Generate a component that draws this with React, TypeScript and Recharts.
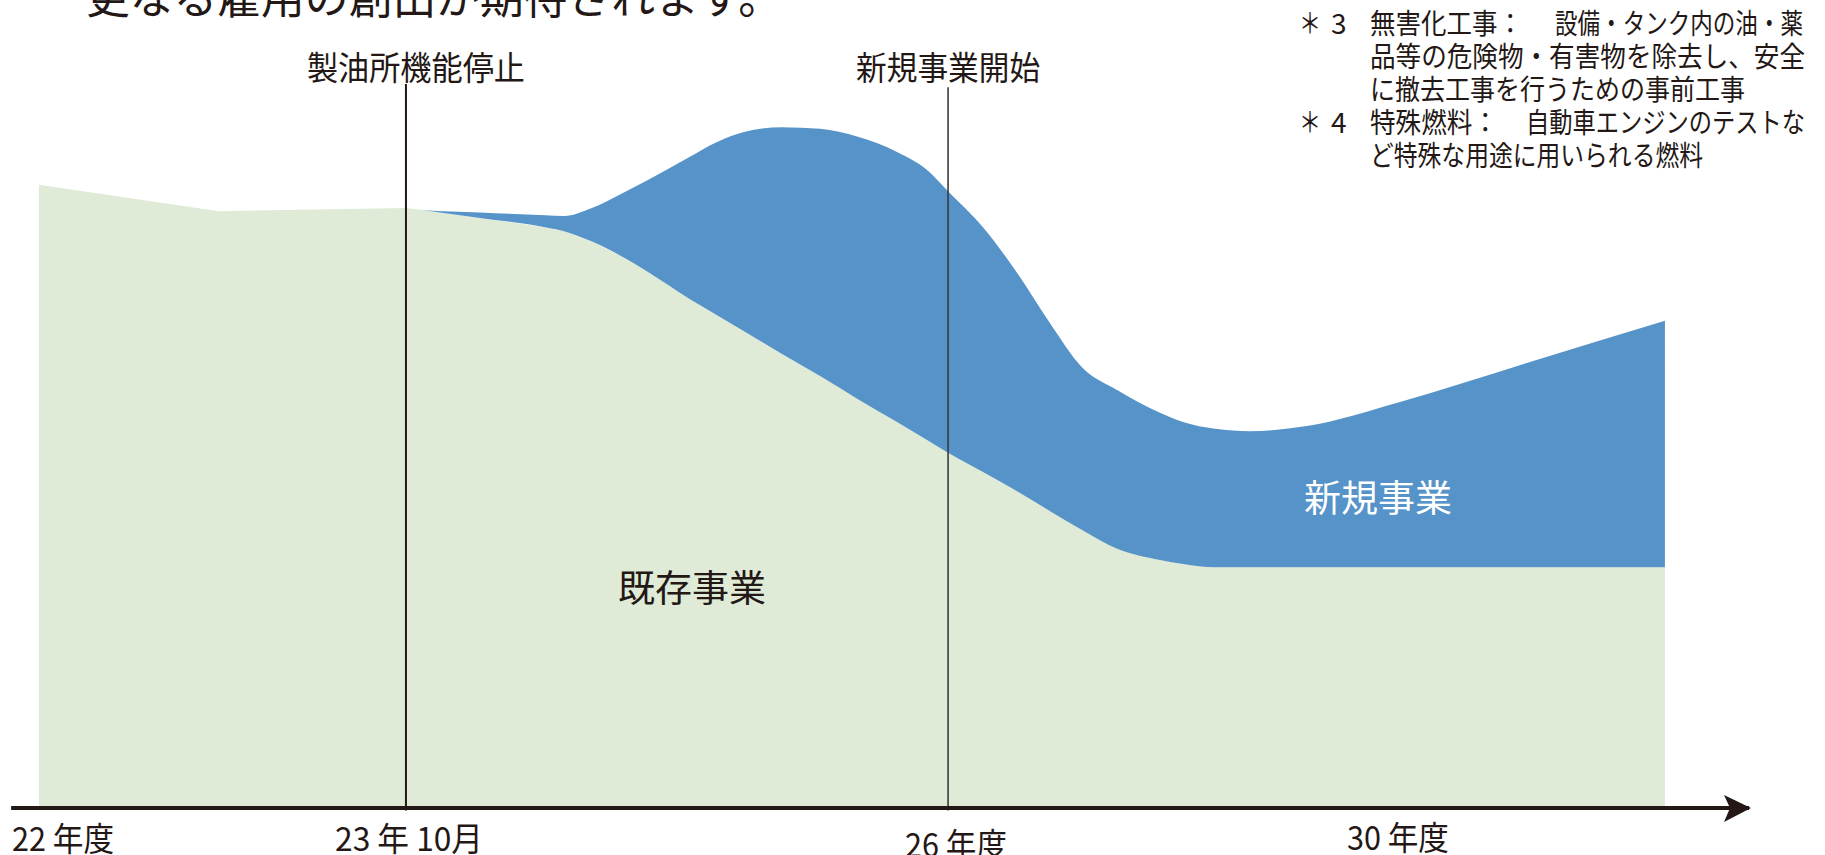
import React from "react";
import { ComposedChart, Area, XAxis, YAxis, ReferenceLine } from "recharts";

// x: schematic time index (0–100), y: schematic employment index (0–100)
const timeIndex = [1.55, 11.92, 22.68, 23.6, 26.94, 30.69, 31.78, 33.39, 35.06, 36.61, 39.03, 40.59, 42.14, 44.33, 46.52, 48.7, 50.95, 52.68, 53.89, 55.9, 57.86, 59.76, 61.6, 63.62, 66.09, 67.42, 69.26, 71.27, 74.55, 79.91, 87.39, 95.16];
const existingBiz = [77.9, 74.6, 75.0, 74.75, 73.75, 72.6, 72.1, 70.8, 69.0, 67.0, 63.6, 61.6, 59.6, 56.75, 54.0, 51.1, 48.25, 46.0, 44.4, 42.0, 39.6, 37.1, 34.75, 32.4, 31.0, 30.5, 30.1, 30.1, 30.1, 30.1, 30.1, 30.1];
const newBiz = [0, 0, 0, 0, 0.69, 1.5, 1.9, 4.2, 7.75, 11.5, 17.8, 21.65, 24.9, 28.35, 30.9, 32.8, 33.75, 33.75, 32.7, 30.6, 27.3, 23.5, 20.35, 19.85, 18.4, 17.75, 17.3, 17.0, 17.65, 20.65, 25.65, 30.8];

const tickValues = [2.94, 22.86, 54.35, 79.79];
const tickLabels = ["22 年度", "23 年 10月", "26 年度", "30 年度"];
const tickWidths = [102, 148, 102, 102];
const tickBaselines = [851, 851, 857, 850];

const events = [
  { x: 22.68, top: 90.5, label: "製油所機能停止", width: 218, dx: 10 },
  { x: 53.89, top: 90.1, label: "新規事業開始", width: 184, dx: 0 },
];

const data = timeIndex.map((t, i) => ({ t, existing: existingBiz[i], added: newBiz[i] }));

const INK = "#231815";
const GREEN = "#dfebd6";
const BLUE = "#5693c8";
const JP = "'Noto Sans CJK JP', 'Noto Sans', sans-serif";

const Tick = (props: any) => {
  const i = tickValues.indexOf(props.payload.value);
  if (i < 0) return null;
  return (
    <text
      x={props.x}
      y={tickBaselines[i]}
      textAnchor="middle"
      fontFamily={JP}
      fontSize={33}
      fill={INK}
      textLength={tickWidths[i]}
      lengthAdjust="spacingAndGlyphs"
    >
      {tickLabels[i]}
    </text>
  );
};

const EventLabel = (props: any) => {
  const vb = props.viewBox || {};
  const ev = props.ev;
  return (
    <text
      x={vb.x + ev.dx}
      y={80}
      textAnchor="middle"
      fontFamily={JP}
      fontSize={33}
      fill={INK}
      textLength={ev.width}
      lengthAdjust="spacingAndGlyphs"
    >
      {ev.label}
    </text>
  );
};

const NOTE_FS = 28;

export default function App() {
  return (
    <div style={{ position: "absolute", left: 0, top: 0, width: 1825, height: 855, background: "#fff", overflow: "hidden" }}>
      <ComposedChart
        width={1825}
        height={855}
        data={data}
        margin={{ top: 8, right: 76, bottom: 0, left: 12 }}
      >
        <XAxis
          dataKey="t"
          type="number"
          domain={[0, 100]}
          ticks={tickValues}
          tick={<Tick />}
          tickLine={false}
          height={47}
          axisLine={false}
          interval={0}
        />
        <YAxis hide domain={[0, 100]} type="number" allowDataOverflow />
        <Area
          dataKey="existing"
          stackId="a"
          type="linear"
          fill={GREEN}
          fillOpacity={1}
          stroke="none"
          isAnimationActive={false}
          dot={false}
          activeDot={false}
        />
        <Area
          dataKey="added"
          stackId="a"
          type="monotone"
          fill={BLUE}
          fillOpacity={1}
          stroke="none"
          isAnimationActive={false}
          dot={false}
          activeDot={false}
        />
        {events.map((ev, i) => (
          <ReferenceLine
            key={i}
            segment={[{ x: ev.x, y: ev.top }, { x: ev.x, y: -0.3 }]}
            stroke={i === 0 ? INK : "#3b3b3b"}
            strokeWidth={i === 0 ? 2 : 1.6}
            ifOverflow="visible"
            label={<EventLabel ev={ev} />}
          />
        ))}
        <ReferenceLine
          segment={[{ x: -0.05, y: 0 }, { x: 100, y: 0 }]}
          stroke={INK}
          strokeWidth={4}
          ifOverflow="visible"
        />
      </ComposedChart>
      <svg width={1825} height={855} style={{ position: "absolute", left: 0, top: 0, pointerEvents: "none" }}>
        <path d="M1724,795 L1751,808 L1724,822 L1730,808 Z" fill={INK} />
        <text x={86} y={14} fontFamily={JP} fontSize={44} fill={INK} textLength={696} lengthAdjust="spacingAndGlyphs">
          更なる雇用の創出が期待されます。
        </text>
        <text x={692} y={602} textAnchor="middle" fontFamily={JP} fontSize={37} fill={INK}>既存事業</text>
        <text x={1378} y={512} textAnchor="middle" fontFamily={JP} fontSize={37} fill="#ffffff">新規事業</text>
        <g fontFamily={JP} fontSize={NOTE_FS} fill={INK}>
          <text x={1299} y={34} textLength={22} lengthAdjust="spacingAndGlyphs">＊</text>
          <text x={1331} y={34}>3</text>
          <text x={1370} y={34} textLength={153} lengthAdjust="spacingAndGlyphs">無害化工事：</text>
          <text x={1555} y={34} textLength={248} lengthAdjust="spacingAndGlyphs">設備・タンク内の油・薬</text>
          <text x={1370} y={67} textLength={435} lengthAdjust="spacingAndGlyphs">品等の危険物・有害物を除去し、安全</text>
          <text x={1370} y={100} textLength={375} lengthAdjust="spacingAndGlyphs">に撤去工事を行うための事前工事</text>
          <text x={1299} y={133} textLength={22} lengthAdjust="spacingAndGlyphs">＊</text>
          <text x={1331} y={133}>4</text>
          <text x={1370} y={133} textLength={128} lengthAdjust="spacingAndGlyphs">特殊燃料：</text>
          <text x={1526} y={133} textLength={279} lengthAdjust="spacingAndGlyphs">自動車エンジンのテストな</text>
          <text x={1370} y={166} textLength={333} lengthAdjust="spacingAndGlyphs">ど特殊な用途に用いられる燃料</text>
        </g>
      </svg>
    </div>
  );
}
